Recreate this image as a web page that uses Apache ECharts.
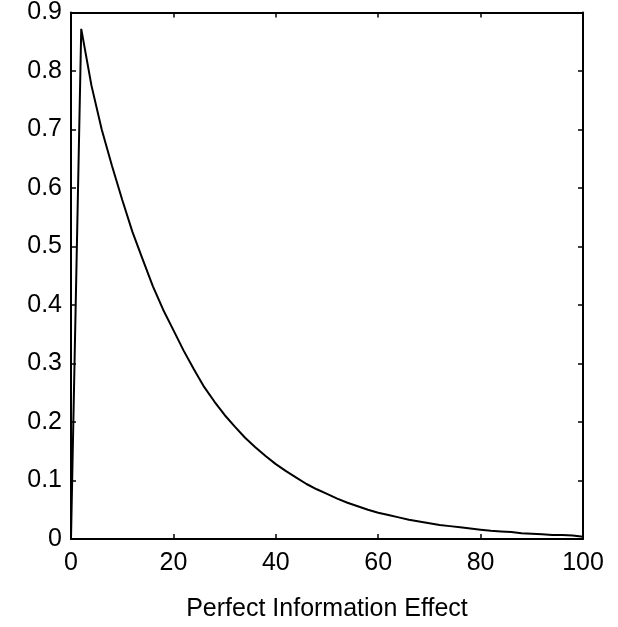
<!DOCTYPE html>
<html>
<head>
<meta charset="utf-8">
<script src="https://cdn.jsdelivr.net/npm/echarts@6/dist/echarts.min.js"></script>
<style>
  html, body { margin: 0; padding: 0; background: #fff; }
  #chart { width: 618px; height: 627px; }
</style>
</head>
<body>
<div id="chart"></div>
<script>
// Effect size values sampled every 2 units along the horizontal axis
var xValues = [0, 2, 4, 6, 8, 10, 12, 14, 16, 18, 20, 22, 24, 26, 28, 30, 32, 34, 36, 38, 40,
  42, 44, 46, 48, 50, 52, 54, 56, 58, 60, 62, 64, 66, 68, 70, 72, 74, 76, 78, 80,
  82, 84, 86, 88, 90, 92, 94, 96, 98, 100];
var yValues = [0, 0.872, 0.775, 0.700, 0.638, 0.580, 0.525, 0.478, 0.432, 0.392, 0.357,
  0.322, 0.290, 0.260, 0.235, 0.212, 0.192, 0.173, 0.157, 0.142, 0.128,
  0.116, 0.105, 0.094, 0.085, 0.077, 0.069, 0.062, 0.056, 0.050, 0.045,
  0.041, 0.037, 0.033, 0.030, 0.027, 0.024, 0.022, 0.020, 0.018, 0.016,
  0.014, 0.013, 0.012, 0.010, 0.009, 0.008, 0.007, 0.007, 0.006, 0.004];
var xTicks = { min: 0, max: 100, interval: 20 };
var yTicks = { min: 0, max: 0.9, interval: 0.1 };
var xTitle = 'Perfect Information Effect';

var points = xValues.map(function (x, i) { return [x, yValues[i]]; });

var font = 'Liberation Sans, Arial, sans-serif';
var frameLine = { show: true, onZero: false, lineStyle: { color: '#000', width: 2 } };
var innerTick = { show: true, inside: true, length: 5, lineStyle: { color: '#000', width: 1.5 } };

var chart = echarts.init(document.getElementById('chart'), null, { renderer: 'canvas' });
chart.setOption({
  animation: false,
  backgroundColor: '#fff',
  grid: { left: 71, right: 35, top: 12, bottom: 85, containLabel: false },
  xAxis: [{
    type: 'value', position: 'bottom',
    min: xTicks.min, max: xTicks.max, interval: xTicks.interval,
    name: xTitle, nameLocation: 'middle', nameGap: 58,
    nameTextStyle: { fontFamily: font, fontSize: 25, color: '#000' },
    axisLine: frameLine, axisTick: innerTick,
    axisLabel: { fontFamily: font, fontSize: 25, color: '#000', margin: 12 },
    splitLine: { show: false }
  }, {
    type: 'value', position: 'top',
    min: xTicks.min, max: xTicks.max, interval: xTicks.interval,
    axisLine: frameLine, axisTick: innerTick,
    axisLabel: { show: false }, splitLine: { show: false }
  }],
  yAxis: [{
    type: 'value', position: 'left',
    min: yTicks.min, max: yTicks.max, interval: yTicks.interval,
    axisLine: frameLine, axisTick: innerTick,
    axisLabel: { fontFamily: font, fontSize: 25, color: '#000', margin: 9 },
    splitLine: { show: false }
  }, {
    type: 'value', position: 'right',
    min: yTicks.min, max: yTicks.max, interval: yTicks.interval,
    axisLine: frameLine, axisTick: innerTick,
    axisLabel: { show: false }, splitLine: { show: false }
  }],
  series: [{
    type: 'line',
    data: points,
    xAxisIndex: 0, yAxisIndex: 0,
    symbol: 'none',
    smooth: false,
    lineStyle: { color: '#000', width: 2 }
  }]
});
</script>
</body>
</html>
